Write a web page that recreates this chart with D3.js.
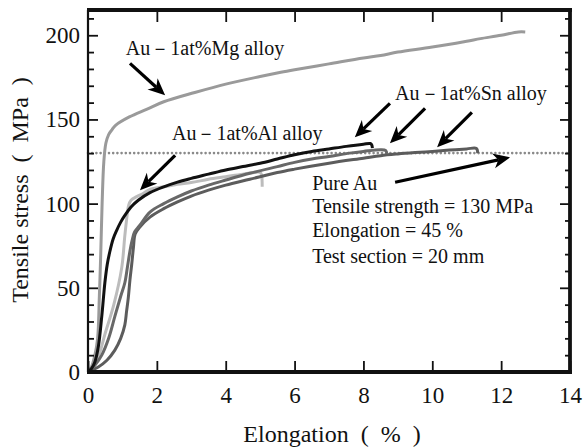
<!DOCTYPE html>
<html>
<head>
<meta charset="utf-8">
<script src="https://cdn.jsdelivr.net/npm/d3@7"></script>
<style>
  body { margin: 0; background: #fff; }
  svg text { font-family: "Liberation Serif", "Times New Roman", serif; white-space: pre; }
</style>
</head>
<body>
<div id="chart"></div>
<script>
var margin = {top: 10, right: 15, bottom: 76, left: 88},
    width = 585 - margin.left - margin.right,
    height = 448 - margin.top - margin.bottom;

var serif = '"Liberation Serif", "Times New Roman", serif'

// elongation (%) / stress (MPa) pairs
var mgElong  = [0, 0.1, 0.2, 0.28, 0.33, 0.37, 0.41, 0.46, 0.52, 0.6, 0.7, 0.8, 1.2, 1.7, 2.2, 3.1, 4, 5, 5.6, 6, 7, 8, 8.5, 9, 10, 11, 11.4, 12, 12.5, 12.7]
var mgStress = [0, 3, 10, 20, 45, 70, 100, 125, 136, 141, 144, 146.5, 151.5, 156, 160.5, 166, 171, 175.5, 178, 179.5, 183, 186.5, 188, 190, 193, 196.5, 198, 200, 202, 202]

var alElong  = [0, 0.15, 0.3, 0.5, 0.75, 0.98, 1.07, 1.13, 1.18, 1.25, 1.4, 1.6, 1.8, 2.2, 2.6, 3, 3.5, 4, 4.5, 5, 5.04, 5.06]
var alStress = [0, 3, 9, 23, 40, 62, 81, 92, 99, 102, 104, 106, 108.5, 110, 111.5, 112.5, 114.5, 116, 117.5, 118.5, 117, 110]

var sn1Elong  = [0, 0.1, 0.2, 0.3, 0.4, 0.49, 0.56, 0.64, 0.73, 0.83, 0.95, 1.07, 1.25, 1.46, 1.8, 2.2, 2.6, 3, 3.5, 4, 4.5, 5, 5.5, 6, 6.5, 7, 7.5, 8, 8.2, 8.24, 8.26]
var sn1Stress = [0, 2, 6, 15, 33, 53, 64, 72, 79, 84, 89, 93, 98, 102, 106.5, 110, 112.8, 115, 117.5, 120, 122, 124, 126.5, 129, 131, 132.5, 134, 135.3, 135.7, 135, 133]

var sn2Elong  = [0, 0.2, 0.4, 0.6, 0.78, 0.95, 1.07, 1.15, 1.22, 1.28, 1.35, 1.5, 1.8, 2.2, 2.6, 3, 3.5, 4, 4.7, 5.5, 6, 6.5, 7, 7.6, 8, 8.5, 8.65, 8.68]
var sn2Stress = [0, 4, 10, 20, 33, 45, 53, 63, 72, 78, 83, 87, 95, 100, 104, 107.5, 111, 114, 118, 122, 124.5, 126.5, 128, 130, 131, 132, 131.5, 129.5]

var sn3Elong  = [0, 0.3, 0.55, 0.78, 0.95, 1.07, 1.12, 1.17, 1.22, 1.27, 1.32, 1.37, 1.5, 1.8, 2.2, 2.6, 3, 3.5, 4, 4.7, 5.5, 6, 7, 8, 8.5, 9, 9.5, 10, 10.5, 11, 11.28, 11.32]
var sn3Stress = [0, 3, 7, 13, 20, 28, 36, 44, 55, 64, 74, 82, 86, 92, 97, 101, 104.5, 108, 111, 114.5, 118.5, 120.5, 124, 127, 128.5, 129.5, 130.3, 131, 131.8, 132.5, 132.8, 130]

var pureAuStrength = 130

var xMajor = [0, 2, 4, 6, 8, 10, 12, 14]
var yMajor = [0, 50, 100, 150, 200]
var yMinor = [10, 20, 30, 40, 60, 70, 80, 90, 110, 120, 130, 140, 160, 170, 180, 190, 210]

var labels = ['Au－1at%Mg alloy', 'Au－1at%Al alloy', 'Au－1at%Sn alloy']
var labelX = [1.1, 2.44, 8.92]
var labelY = [188, 137.6, 161.3]

var noteLines = ['Pure Au', 'Tensile strength = 130 MPa', 'Elongation = 45 %', 'Test section = 20 mm']
var noteX = 6.51
var noteY = [108, 94.3, 80.1, 64.7]

// arrows: [tailE, tailS, tipE, tipS]
var arrows = [
  [1.22, 183.3, 2.24, 164.3],
  [2.53, 128.7, 1.51, 108],
  [8.77, 159.5, 7.75, 139.4],
  [9.79, 156.6, 8.77, 135.8],
  [11.15, 154.2, 10.14, 133.5],
  [8.92, 112.7, 12.26, 127.5]
]

var series = [
  {e: mgElong, s: mgStress, color: '#9a9a9a'},
  {e: alElong, s: alStress, color: '#bcbcbc'},
  {e: sn3Elong, s: sn3Stress, color: '#5c5c5c'},
  {e: sn2Elong, s: sn2Stress, color: '#686868'},
  {e: sn1Elong, s: sn1Stress, color: '#111111'}
]

var x = d3.scaleLinear().domain([0, 14]).range([0, width])
var y = d3.scaleLinear().domain([0, 215]).range([height, 0])

var svg = d3.select('#chart').append('svg')
  .attr('width', width + margin.left + margin.right)
  .attr('height', height + margin.top + margin.bottom)

var g = svg.append('g')
  .attr('transform', 'translate(' + margin.left + ',' + margin.top + ')')

// dotted line for pure Au tensile strength
g.append('line')
  .attr('x1', x(0)).attr('x2', x(14))
  .attr('y1', y(pureAuStrength)).attr('y2', y(pureAuStrength))
  .attr('stroke', '#8a8a8a')
  .attr('stroke-width', 2.6)
  .attr('stroke-linecap', 'round')
  .attr('stroke-dasharray', '0,4.2')

var line = d3.line()
  .x(function(d) {return x(d[0])})
  .y(function(d) {return y(d[1])})
  .curve(d3.curveCatmullRom.alpha(0.5))

series.forEach(function(sr) {
  var pts = sr.e.map(function(v, i) {return [v, sr.s[i]]})
  g.append('path')
    .datum(pts)
    .attr('d', line)
    .attr('fill', 'none')
    .attr('stroke', sr.color)
    .attr('stroke-width', 3)
    .attr('stroke-linejoin', 'round')
})

// axes
var yAxis = d3.axisLeft(y).tickValues(yMajor).tickSize(-10).tickPadding(8)
var yAxisMinor = d3.axisLeft(y).tickValues(yMinor).tickSize(-6).tickFormat('')
var yRight = d3.axisRight(y).tickValues(yMajor).tickSize(-10).tickFormat('')
var yRightMinor = d3.axisRight(y).tickValues(yMinor).tickSize(-5).tickFormat('')
var xAxis = d3.axisBottom(x).tickValues(xMajor).tickSize(-11).tickPadding(15)
var xTop = d3.axisTop(x).tickValues(xMajor.slice(1, -1)).tickSize(-12).tickFormat('')

function styleAxis(sel) {
  sel.attr('font-family', serif)
  sel.select('.domain').remove()
  sel.selectAll('.tick line').attr('stroke', '#111').attr('stroke-width', 1.8)
  sel.selectAll('.tick text')
    .attr('fill', '#111')
    .style('font-family', serif)
    .style('font-size', '23px')
}

g.append('g').call(yAxis).call(styleAxis)
g.append('g').call(yAxisMinor).call(styleAxis)
g.append('g').attr('transform', 'translate(' + width + ',0)').call(yRight).call(styleAxis)
g.append('g').attr('transform', 'translate(' + width + ',0)').call(yRightMinor).call(styleAxis)
g.append('g').attr('transform', 'translate(0,' + height + ')').call(xAxis).call(styleAxis)
g.append('g').call(xTop).call(styleAxis)

// frame
g.append('line').attr('x1', 0).attr('x2', 0).attr('y1', 0).attr('y2', height)
  .attr('stroke', '#111').attr('stroke-width', 2.2)
g.append('line').attr('x1', width).attr('x2', width).attr('y1', -2).attr('y2', height + 2)
  .attr('stroke', '#111').attr('stroke-width', 3.8)
g.append('line').attr('x1', -1).attr('x2', width + 2).attr('y1', 0).attr('y2', 0)
  .attr('stroke', '#111').attr('stroke-width', 3.8)
g.append('line').attr('x1', -1).attr('x2', width + 2).attr('y1', height).attr('y2', height)
  .attr('stroke', '#111').attr('stroke-width', 4)

// axis titles
svg.append('text')
  .attr('x', 332).attr('y', 442)
  .attr('text-anchor', 'middle')
  .style('font-family', serif)
  .style('font-size', '24px')
  .attr('fill', '#111')
  .text('Elongation  (  %  )')

svg.append('text')
  .attr('transform', 'translate(28,' + 190 + ') rotate(-90)')
  .attr('text-anchor', 'middle')
  .style('font-family', serif)
  .style('font-size', '24px')
  .attr('fill', '#111')
  .text('Tensile stress  (  MPa  )')

// annotations
labels.forEach(function(t, i) {
  g.append('text')
    .attr('x', x(labelX[i])).attr('y', y(labelY[i]))
    .style('font-family', serif)
    .style('font-size', '20px')
    .attr('fill', '#111')
    .text(t)
})

noteLines.forEach(function(t, i) {
  g.append('text')
    .attr('x', x(noteX)).attr('y', y(noteY[i]))
    .style('font-family', serif)
    .style('font-size', '20px')
    .attr('fill', '#111')
    .text(t)
})

// arrows
arrows.forEach(function(a) {
  var x0 = x(a[0]), y0 = y(a[1]), x1 = x(a[2]), y1 = y(a[3])
  var dx = x1 - x0, dy = y1 - y0
  var len = Math.sqrt(dx * dx + dy * dy)
  var ux = dx / len, uy = dy / len
  var headLen = 17, halfW = 7.5, notch = 5
  var bx = x1 - ux * headLen, by = y1 - uy * headLen
  var nx = x1 - ux * (headLen - notch), ny = y1 - uy * (headLen - notch)
  g.append('line')
    .attr('x1', x0).attr('y1', y0).attr('x2', nx).attr('y2', ny)
    .attr('stroke', '#000').attr('stroke-width', 3.2)
  g.append('path')
    .attr('d', 'M' + x1 + ',' + y1 +
      'L' + (bx - uy * halfW) + ',' + (by + ux * halfW) +
      'L' + nx + ',' + ny +
      'L' + (bx + uy * halfW) + ',' + (by - ux * halfW) + 'Z')
    .attr('fill', '#000')
})
</script>
</body>
</html>
